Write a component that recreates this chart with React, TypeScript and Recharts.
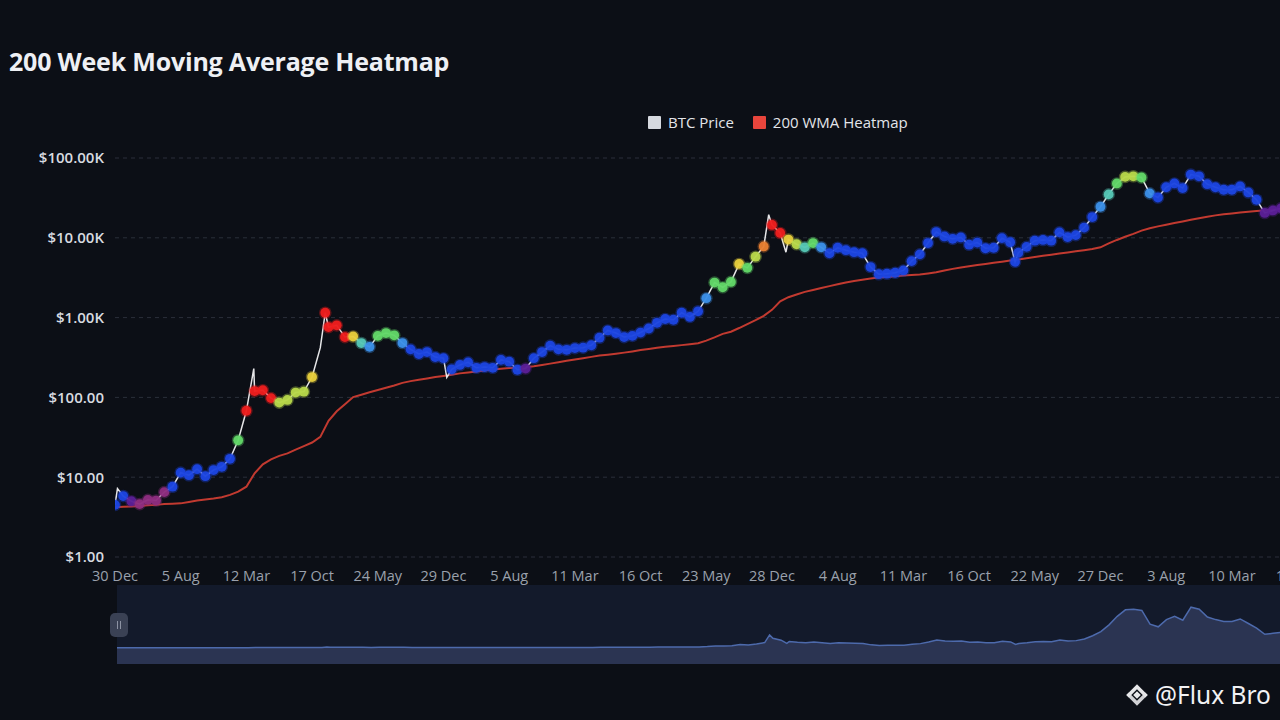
import React from 'react';
import {
  ComposedChart, AreaChart, Area, Line, XAxis, YAxis, CartesianGrid,
} from 'recharts';

// one point every 1/8 of a label step (label steps are ~219 days apart)
const TICK_LABELS = [
  '30 Dec', '5 Aug', '12 Mar', '17 Oct', '24 May', '29 Dec', '5 Aug', '11 Mar', '16 Oct', '23 May',
  '28 Dec', '4 Aug', '11 Mar', '16 Oct', '22 May', '27 Dec', '3 Aug', '10 Mar', '16 Oct',
];
const TICKS = [0, 8, 16, 24, 32, 40, 48, 56, 64, 72, 80, 88, 96, 104, 112, 120, 128, 136, 144];
const Y_TICKS = [1, 10, 100, 1000, 10000, 100000];

const PRICE = [
  4.5, 5.8, 5.0, 4.6, 5.2, 5.1, 6.5, 7.6,
  11.4, 10.6, 12.6, 10.3, 12.3, 13.5, 17, 29,
  68, 120, 123, 98, 86, 93, 115, 118,
  180, 420, 760, 800, 570, 580, 480, 430,
  590, 640, 600, 480, 400, 350, 370, 320,
  310, 225, 255, 275, 235, 240, 235, 295,
  280, 222, 230, 310, 370, 445, 400, 395,
  415, 420, 450, 560, 690, 640, 570, 590,
  650, 730, 860, 960, 940, 1150, 1020, 1200,
  1750, 2750, 2400, 2800, 4700, 4200, 5800, 7800,
  14500, 11500, 9500, 8300, 7600, 8600, 7600, 6400,
  7500, 7000, 6600, 6400, 4300, 3500, 3550, 3650,
  3900, 5100, 6200, 8600, 11800, 10400, 9700, 10100,
  8200, 8700, 7400, 7500, 9900, 8800, 6500, 7700,
  9200, 9400, 9200, 11700, 10200, 10800, 13400, 18200,
  24500, 35000, 48000, 58000, 59000, 57000, 36000, 32000,
  43000, 48000, 42000, 62000, 59000, 47000, 43000, 40000,
  40000, 44000, 37000, 30000, 20500, 22000, 23500, 21000,
  19500, 20500, 17000,
];

const WMA = [
  4.2, 4.25, 4.3, 4.35, 4.45, 4.5, 4.6, 4.65,
  4.7, 4.9, 5.1, 5.25, 5.4, 5.6, 6.0, 6.6,
  7.6, 11.2, 14.5, 16.7, 18.5, 19.9, 22.2, 24.5,
  27.2, 32, 51, 67, 82, 101, 108, 116,
  124, 132, 141, 152, 160, 166, 173, 180,
  186, 192, 200, 205, 211, 218, 224, 229,
  233, 236, 239, 245, 255, 265, 276, 287,
  298, 310, 322, 334, 342, 352, 364, 377,
  392, 405, 418, 430, 440, 452, 465, 477,
  515, 565, 625, 665, 740, 830, 930, 1050,
  1250, 1600, 1800, 1950, 2100, 2220, 2350, 2480,
  2620, 2760, 2880, 2980, 3080, 3170, 3230, 3300,
  3360, 3420, 3480, 3580, 3700, 3900, 4080, 4250,
  4400, 4550, 4700, 4880, 5020, 5180, 5340, 5550,
  5750, 5950, 6150, 6350, 6550, 6780, 7000, 7250,
  7600, 8500, 9400, 10300, 11200, 12300, 13200, 13900,
  14600, 15300, 16000, 16800, 17600, 18400, 19100, 19700,
  20200, 20700, 21200, 21600, 22000, 22500, 23000, 23400,
  23800, 24100, 24400,
];

// heat level per point, index into HEAT_COLORS (null = no dot)
const HEAT = [
  2, 2, 0, 1, 1, 1, 1, 2,
  2, 2, 2, 2, 2, 2, 2, 5,
  9, 9, 9, 9, 6, 6, 6, 6,
  7, null, 9, 9, 9, 7, 4, 3,
  5, 5, 5, 3, 2, 2, 2, 2,
  2, 2, 2, 2, 2, 2, 2, 2,
  2, 2, 0, 2, 2, 2, 2, 2,
  2, 2, 2, 2, 2, 2, 2, 2,
  2, 2, 2, 2, 2, 2, 2, 2,
  3, 5, 5, 5, 7, 5, 6, 8,
  9, 9, 7, 6, 4, 5, 3, 2,
  2, 2, 2, 2, 2, 2, 2, 2,
  2, 2, 2, 2, 2, 2, 2, 2,
  2, 2, 2, 2, 2, 2, 2, 2,
  2, 2, 2, 2, 2, 2, 2, 2,
  3, 4, 5, 6, 6, 5, 3, 2,
  2, 2, 2, 2, 2, 2, 2, 2,
  2, 2, 2, 2, 0, 0, 0, 0,
  0, 0, 0,
];

// short-lived spikes / dips between the regular points
const EXTRA_AT = [0.3, 16.9, 25.6, 40.4, 79.6, 81.7, 109.6];
const EXTRA_PRICE = [7.2, 230, 1150, 178, 19500, 6600, 5000];
const EXTRA_HEAT = [null, null, 9, null, null, null, 2];

const HEAT_COLORS = [
  '#5b1f97', '#8e2d80', '#1c46e2', '#3b8fe8', '#55c7b5',
  '#62d868', '#b8d84a', '#e8cf3c', '#ea7f30', '#ee1d1d',
];

const rows = PRICE.map((p, i) => ({ pos: i, price: p, wma: WMA[i] as number | undefined, heat: HEAT[i] }))
  .concat(EXTRA_AT.map((a, k) => ({ pos: a, price: EXTRA_PRICE[k], wma: undefined, heat: EXTRA_HEAT[k] })))
  .sort((a, b) => a.pos - b.pos);

const FONT = '"Open Sans", "Noto Sans", sans-serif';
const BG = '#0c0f16';

function fmtUsd(v: number) {
  if (v >= 1000) return `$${(v / 1000).toFixed(2)}K`;
  return `$${v.toFixed(2)}`;
}

function HeatDot(props: any) {
  const { cx, cy, payload, index } = props;
  if (payload == null || payload.heat == null || cx == null) return <g key={`h${index}`} />;
  const c = HEAT_COLORS[payload.heat];
  return (
    <g key={`h${index}`}>
      <circle cx={cx} cy={cy} r={6.3} fill={c} fillOpacity={0.35} />
      <circle cx={cx} cy={cy} r={4.9} fill={c} fillOpacity={0.95} />
    </g>
  );
}

function BinanceMark() {
  return (
    <svg width="28" height="28" viewBox="0 0 26 26">
      <g fill="#e8e8ea" transform="rotate(45 13 13)">
        <rect x="10.5" y="10.5" width="5" height="5" />
        <path d="M6 6h14v3.2H9.2V20H6z" />
        <path d="M20 20H6v-3.2h10.8V6H20z" opacity="0.9" />
      </g>
    </svg>
  );
}

export default function App() {
  return (
    <div style={{ position: 'fixed', inset: 0, width: 1280, height: 720, overflow: 'hidden', background: BG, fontFamily: FONT }}>
      {/* title */}
      <div style={{ position: 'absolute', left: 9, top: 44, fontSize: 25, fontWeight: 700, color: '#eef0f4', letterSpacing: -0.2 }}>
        200 Week Moving Average Heatmap
      </div>

      {/* legend */}
      <div style={{ position: 'absolute', left: 648, top: 112, display: 'flex', alignItems: 'center', fontSize: 15, color: '#e3e5ea' }}>
        <span style={{ width: 13, height: 13, background: '#d6d9df', borderRadius: 1, marginRight: 7 }} />
        <span style={{ marginRight: 19 }}>BTC Price</span>
        <span style={{ width: 13, height: 13, background: '#e8453c', borderRadius: 1, marginRight: 7 }} />
        <span>200 WMA Heatmap</span>
      </div>

      <div style={{ position: 'absolute', left: 0, top: 0 }}>
        <ComposedChart width={1314} height={600} data={rows}
          margin={{ top: 158, right: 0, bottom: 13, left: 15 }}>
          <CartesianGrid vertical={false} stroke="#2a2f3a" strokeDasharray="4 4" />
          <XAxis dataKey="pos" type="number" domain={[0, 146]} ticks={TICKS} interval={0}
            allowDataOverflow axisLine={false} tickLine={false} tickSize={0} tickMargin={14} height={30}
            tickFormatter={(v: number) => TICK_LABELS[TICKS.indexOf(v)] ?? ''}
            tick={{ fill: '#9aa1ac', fontSize: 14.5, fontFamily: FONT }} />
          <YAxis scale="log" type="number" domain={[1, 100000]} ticks={Y_TICKS} allowDataOverflow
            width={100} axisLine={false} tickLine={false} tickSize={0} tickMargin={11}
            tickFormatter={fmtUsd}
            tick={{ fill: '#d8dbe0', fontSize: 15, fontWeight: 600, fontFamily: FONT }} />
          <Line dataKey="wma" name="200 WMA Heatmap" stroke="#c23a30" strokeWidth={2}
            dot={false} connectNulls isAnimationActive={false} />
          <Line dataKey="price" stroke="none" dot={HeatDot} activeDot={false}
            legendType="none" isAnimationActive={false} />
          <Line dataKey="price" name="BTC Price" stroke="#e6e6e8" strokeWidth={1.5}
            dot={false} isAnimationActive={false} />
        </ComposedChart>
      </div>

      {/* overview strip */}
      <div style={{ position: 'absolute', left: 117, top: 585, width: 1200, height: 79, background: '#131a2b' }} />
      <div style={{ position: 'absolute', left: 117, top: 585 }}>
        <AreaChart width={1197} height={79} data={rows} margin={{ top: 0, right: 0, bottom: 0, left: 0 }}>
          <XAxis dataKey="pos" type="number" domain={[0, 146]} hide />
          <YAxis type="number" domain={[-25000, 96000]} hide />
          <Area dataKey="price" baseValue="dataMin" stroke="#4d6aac" strokeWidth={1.5}
            fill="#2b3452" fillOpacity={1} isAnimationActive={false} />
        </AreaChart>
      </div>
      <div style={{
        position: 'absolute', left: 110, top: 613, width: 18, height: 24, borderRadius: 5,
        background: '#3a4154', display: 'flex', alignItems: 'center', justifyContent: 'center', gap: 2,
      }}>
        <span style={{ width: 1, height: 8, background: '#8d93a3' }} />
        <span style={{ width: 1, height: 8, background: '#8d93a3' }} />
      </div>

      {/* watermark */}
      <div style={{ position: 'absolute', left: 1123, top: 678, display: 'flex', alignItems: 'center', gap: 4,
        color: '#f2f2f4', fontSize: 24.5, fontFamily: '"Noto Sans", sans-serif' }}>
        <BinanceMark />
        <span>@Flux Bro</span>
      </div>
    </div>
  );
}
